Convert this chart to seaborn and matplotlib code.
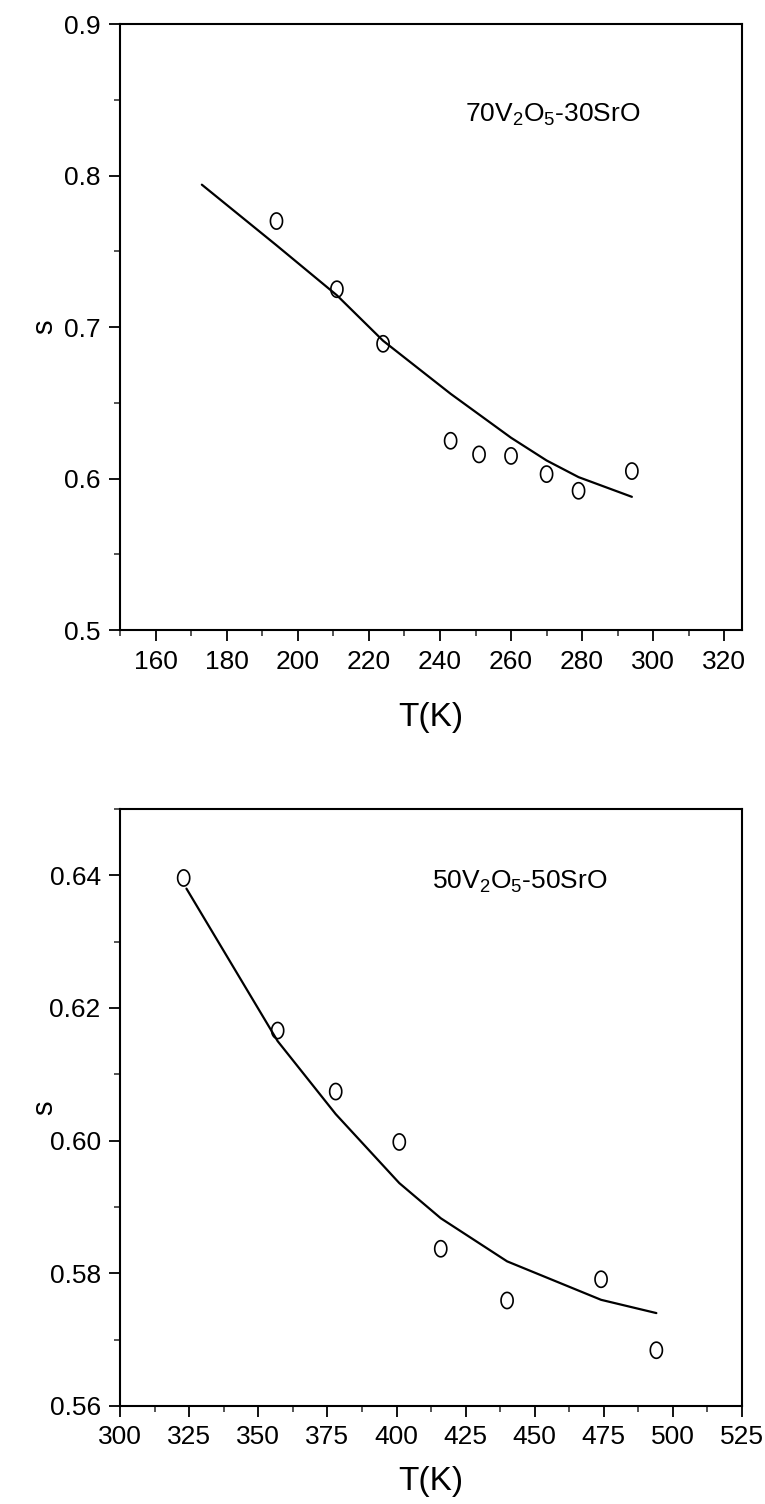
import numpy as np
import pandas as pd
import matplotlib
matplotlib.use('Agg')
import matplotlib.pyplot as plt
from matplotlib.path import Path
from matplotlib.markers import MarkerStyle
from matplotlib.ticker import MultipleLocator, FormatStrFormatter
import seaborn as sns

# 70V2O5-30SrO : measured points and fitted curve
t70 = [194, 211, 224, 243, 251, 260, 270, 279, 294]
s70 = [0.770, 0.725, 0.689, 0.625, 0.616, 0.615, 0.603, 0.592, 0.605]
t70_fit = [173, 194, 211, 224, 243, 260, 270, 279, 294]
s70_fit = [0.794, 0.754, 0.721, 0.691, 0.656, 0.627, 0.612, 0.601, 0.588]

# 50V2O5-50SrO : measured points and fitted curve
t50 = [323, 357, 378, 401, 416, 440, 474, 494]
s50 = [0.6396, 0.6166, 0.6074, 0.5998, 0.5837, 0.5759, 0.5791, 0.5684]
t50_fit = [324, 357, 378, 401, 416, 440, 474, 494]
s50_fit = [0.638, 0.615, 0.604, 0.5936, 0.5883, 0.5818, 0.5760, 0.5740]

sns.set_style('ticks')
plt.rcParams['font.family'] = ['Liberation Sans', 'DejaVu Sans']
plt.rcParams['mathtext.default'] = 'regular'
plt.rcParams['text.color'] = 'black'
plt.rcParams['axes.labelcolor'] = 'black'

# slightly tall open circle, like the "0" markers of the original
th = np.linspace(0, 2 * np.pi, 60)
oval = MarkerStyle(Path(np.column_stack([0.75 * np.cos(th), np.sin(th)])))

fig = plt.figure(figsize=(7.65, 15.04), dpi=100)
ax1 = fig.add_axes([0.157, 0.581, 0.813, 0.403])
ax2 = fig.add_axes([0.157, 0.0652, 0.813, 0.3969])


def panel(ax, t, s, tf, sf, label, xlim, ylim, xmaj, xmin, ymaj, ymin, yfmt, txy, xly):
    pts = pd.DataFrame({'T': t, 's': s})
    fit = pd.DataFrame({'T': tf, 's': sf})
    sns.lineplot(data=fit, x='T', y='s', ax=ax, color='black', lw=1.6, sort=False)
    sns.scatterplot(data=pts, x='T', y='s', ax=ax, marker=oval, s=135,
                    facecolor='none', edgecolor='black', linewidth=1.2, zorder=3)
    ax.set_xlim(*xlim)
    ax.set_ylim(*ylim)
    ax.xaxis.set_major_locator(MultipleLocator(xmaj))
    ax.xaxis.set_minor_locator(MultipleLocator(xmin))
    ax.yaxis.set_major_locator(MultipleLocator(ymaj))
    ax.yaxis.set_minor_locator(MultipleLocator(ymin))
    ax.yaxis.set_major_formatter(FormatStrFormatter(yfmt))
    ax.tick_params(which='major', direction='out', length=8, width=1.3,
                   labelsize=19, colors='black', pad=6)
    ax.tick_params(which='minor', direction='out', length=4, width=1.1)
    for sp in ax.spines.values():
        sp.set_visible(True)
        sp.set_linewidth(1.5)
        sp.set_color('black')
    ax.set_xlabel('T(K)', fontsize=24)
    ax.set_ylabel('s', fontsize=21)
    ax.xaxis.set_label_coords(0.5, xly)
    ax.yaxis.set_label_coords(-0.10, 0.5)
    ax.text(txy[0], txy[1], label, fontsize=19, va='center', ha='left', color='black')


panel(ax1, t70, s70, t70_fit, s70_fit, r'70V$_2$O$_5$-30SrO',
      (150, 325), (0.5, 0.9), 20, 10, 0.1, 0.05, '%.1f', (247, 0.840), -0.118)
panel(ax2, t50, s50, t50_fit, s50_fit, r'50V$_2$O$_5$-50SrO',
      (300, 525), (0.56, 0.65), 25, 12.5, 0.02, 0.01, '%.2f', (413, 0.639), -0.100)

fig.savefig('out.png', dpi=100)
